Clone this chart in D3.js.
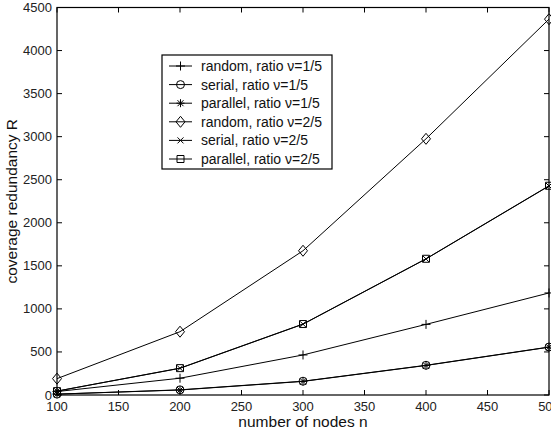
<!DOCTYPE html>
<html>
<head>
<meta charset="utf-8">
<script src="https://cdn.jsdelivr.net/npm/d3@7"></script>
<style>
  body { margin: 0; background: #fff; }
  svg { display: block; font-family: "Liberation Sans", Arial, sans-serif; }
</style>
</head>
<body>
<div id="chart"></div>
<script>
const nodes = [100, 200, 300, 400, 500]

const random15 = [40, 195, 465, 820, 1185]
const serial15 = [10, 60, 160, 345, 557]
const parallel15 = [10, 58, 158, 343, 555]
const random25 = [190, 735, 1675, 2975, 4365]
const serial25 = [45, 310, 822, 1580, 2427]
const parallel25 = [45, 312, 824, 1582, 2430]

const seriesNames = [
    'random, ratio \u03bd=1/5',
    'serial, ratio \u03bd=1/5',
    'parallel, ratio \u03bd=1/5',
    'random, ratio \u03bd=2/5',
    'serial, ratio \u03bd=2/5',
    'parallel, ratio \u03bd=2/5'
]
const seriesMarkers = ['plus', 'circle', 'star', 'diamond', 'cross', 'square']
const seriesValues = [random15, serial15, parallel15, random25, serial25, parallel25]

const xTicks = [100, 150, 200, 250, 300, 350, 400, 450, 500]
const yTicks = [0, 500, 1000, 1500, 2000, 2500, 3000, 3500, 4000, 4500]

const cfg = {
    w: 551,
    h: 430,
    margin: { top: 7.5, right: 2, bottom: 35, left: 57 },
    tick: 5
}

const width = cfg.w - cfg.margin.left - cfg.margin.right
const height = cfg.h - cfg.margin.top - cfg.margin.bottom

const svg = d3.select('#chart')
    .append('svg')
    .attr('width', cfg.w)
    .attr('height', cfg.h)
    .append('g')
    .attr('transform', `translate(${cfg.margin.left}, ${cfg.margin.top})`)

const x = d3.scaleLinear().domain([100, 500]).range([0, width])
const y = d3.scaleLinear().domain([0, 4500]).range([height, 0])

// marker shapes, drawn unfilled like matlab
function markerPath(type) {
    const p = d3.path()
    if (type === 'plus') {
        p.moveTo(-4.5, 0); p.lineTo(4.5, 0); p.moveTo(0, -4.5); p.lineTo(0, 4.5)
    } else if (type === 'circle') {
        p.moveTo(4, 0); p.arc(0, 0, 4, 0, 2 * Math.PI)
    } else if (type === 'star') {
        p.moveTo(-4, 0); p.lineTo(4, 0); p.moveTo(0, -4); p.lineTo(0, 4)
        p.moveTo(-3, -3); p.lineTo(3, 3); p.moveTo(-3, 3); p.lineTo(3, -3)
    } else if (type === 'diamond') {
        p.moveTo(0, -5.5); p.lineTo(4.5, 0); p.lineTo(0, 5.5); p.lineTo(-4.5, 0); p.closePath()
    } else if (type === 'cross') {
        p.moveTo(-3, -3); p.lineTo(3, 3); p.moveTo(-3, 3); p.lineTo(3, -3)
    } else if (type === 'square') {
        p.rect(-3.5, -3.5, 7, 7)
    }
    return p.toString()
}

// box + ticks
svg.append('rect')
    .attr('width', width)
    .attr('height', height)
    .attr('fill', 'none')
    .attr('stroke', '#000')
    .attr('stroke-width', 1.2)

const ax = svg.append('g').attr('stroke', '#000').attr('stroke-width', 1)

ax.selectAll('.xt')
    .data(xTicks).enter()
    .append('path')
    .attr('d', d => `M${x(d)},${height}v${-cfg.tick}M${x(d)},0v${cfg.tick}`)

ax.selectAll('.yt')
    .data(yTicks).enter()
    .append('path')
    .attr('d', d => `M0,${y(d)}h${cfg.tick}M${width},${y(d)}h${-cfg.tick}`)

svg.selectAll('.xl')
    .data(xTicks).enter()
    .append('text')
    .attr('x', d => x(d))
    .attr('y', height + 16)
    .attr('text-anchor', 'middle')
    .attr('font-size', 13)
    .attr('fill', '#222')
    .text(d => d)

svg.selectAll('.yl')
    .data(yTicks).enter()
    .append('text')
    .attr('x', -5)
    .attr('y', d => y(d))
    .attr('dy', '0.35em')
    .attr('text-anchor', 'end')
    .attr('font-size', 13)
    .attr('fill', '#222')
    .text(d => d)

svg.append('text')
    .attr('x', width / 2)
    .attr('y', height + 32)
    .attr('text-anchor', 'middle')
    .attr('font-size', 15.5)
    .attr('fill', '#111')
    .text('number of nodes n')

svg.append('text')
    .attr('transform', `translate(${-40}, ${height / 2}) rotate(-90)`)
    .attr('text-anchor', 'middle')
    .attr('font-size', 15.5)
    .attr('fill', '#111')
    .text('coverage redundancy R')

// lines and markers
const line = d3.line()
    .x((d, i) => x(nodes[i]))
    .y(d => y(d))

seriesValues.forEach((vals, idx) => {
    svg.append('path')
        .attr('fill', 'none')
        .attr('stroke', '#000')
        .attr('stroke-width', 1)
        .attr('d', line(vals))

    svg.selectAll(`.m${idx}`)
        .data(vals).enter()
        .append('path')
        .attr('transform', (d, i) => `translate(${x(nodes[i])}, ${y(d)})`)
        .attr('d', markerPath(seriesMarkers[idx]))
        .attr('fill', 'none')
        .attr('stroke', '#000')
        .attr('stroke-width', 1)
})

// legend
const legend = svg.append('g')
    .attr('transform', `translate(${162 - cfg.margin.left}, ${55 - cfg.margin.top})`)

legend.append('rect')
    .attr('width', 170)
    .attr('height', 114)
    .attr('fill', '#fff')
    .attr('stroke', '#000')
    .attr('stroke-width', 1.2)

const rows = legend.selectAll('.row')
    .data(seriesNames).enter()
    .append('g')
    .attr('transform', (d, i) => `translate(0, ${11 + i * 18.6})`)

rows.append('path')
    .attr('d', 'M7,0H30')
    .attr('stroke', '#000')
    .attr('stroke-width', 1)

rows.append('path')
    .attr('transform', 'translate(18.5, 0)')
    .attr('d', (d, i) => markerPath(seriesMarkers[i]))
    .attr('fill', 'none')
    .attr('stroke', '#000')
    .attr('stroke-width', 1)

rows.append('text')
    .attr('x', 39)
    .attr('dy', '0.35em')
    .attr('font-size', 14)
    .attr('fill', '#111')
    .text(d => d)
</script>
</body>
</html>
